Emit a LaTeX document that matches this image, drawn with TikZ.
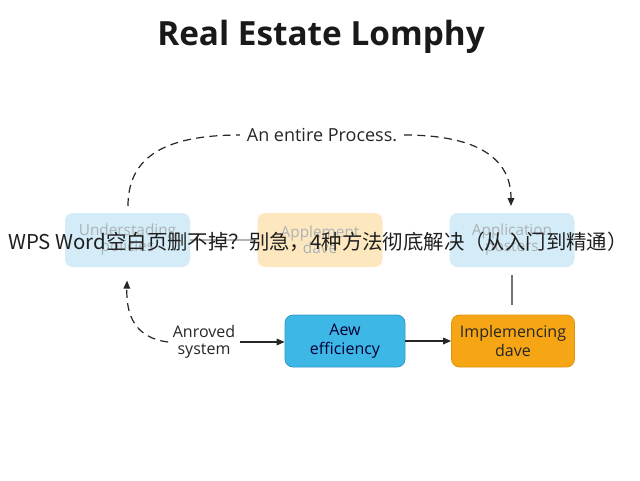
\documentclass[tikz,border=0pt]{standalone}
\usepackage{fontspec}
\setmainfont{Open Sans}
\newfontfamily\cjkfont{Noto Sans CJK SC}
\usetikzlibrary{arrows.meta,calc}
\definecolor{lightblue}{HTML}{D3ECF7}
\definecolor{lightorange}{HTML}{FDE7BF}
\definecolor{midblue}{HTML}{3DB7E6}
\definecolor{deeporange}{HTML}{F6A614}
\definecolor{fadetext}{HTML}{ADB2B6}
\tikzset{
  softbox/.style={rounded corners=6pt, minimum width=125pt*0.75, minimum height=54pt*0.75, align=center, font=\fontsize{11.5}{12}\selectfont, text=fadetext},
  strongbox/.style={rounded corners=6pt, minimum width=120pt*0.75, minimum height=52pt*0.75, align=center, font=\fontsize{12}{14}\selectfont},
  flowarrow/.style={-{Triangle[length=6pt,width=5pt]}, line width=0.9pt, black!85},
  dasharrow/.style={dashed, dash pattern=on 6pt off 4pt, line width=0.9pt, black!85, -{Triangle[length=6pt,width=5pt]}},
  dashline/.style={dashed, dash pattern=on 6pt off 4pt, line width=0.9pt, black!85}
}
\begin{document}
\begin{tikzpicture}[x=0.75pt,y=-0.75pt]
\useasboundingbox[fill=white] (0,0) rectangle (640,480);
% title
\node[font=\fontsize{25}{28}\selectfont\bfseries, text=black!90] (title) at (321,37) {Real Estate Lomphy};
% top row boxes
\node[softbox, fill=lightblue] (b1) at (127.5,240) {Understading\\policies};
\node[softbox, fill=lightorange] (b2) at (320,240) {Applement\\dave};
\node[softbox, fill=lightblue] (b3) at (512,240) {Application\\posters};
% faint arrow between b1 and b2
\draw[-{Triangle[length=5pt,width=4pt]}, line width=0.8pt, black!30] (b1.east) -- (b2.west);
% process label and arc
\node[font=\fontsize{13.5}{15}\selectfont, text=black!85, inner xsep=5pt] (lbl) at (322,135) {An entire Process.};
\coordinate (arcL) at (128,206);
\coordinate (arcR) at (511,206);
\draw[dashline] (arcL) .. controls (128,160) and (160,135) .. (lbl.west);
\draw[dasharrow] (lbl.east) .. controls (480,135) and (511,160) .. (arcR);
% bottom row
\node[font=\fontsize{12}{13}\selectfont, align=center, text=black!85] (anr) at (204,342) {Anroved\\system};
\node[strongbox, fill=midblue, draw=midblue!85!black, line width=0.6pt, text=black!80!blue] (b4) at (345,341) {Aew\\efficiency};
\node[strongbox, fill=deeporange, draw=deeporange!90!black, line width=0.6pt, text=black!85, minimum width=123pt*0.75] (b5) at (513,341) {Implemencing\\dave};
\draw[flowarrow] (anr.east) -- (anr.east -| b4.west);
\draw[flowarrow] (b4.east) -- (b5.west);
% dashed curve back up
\draw[dasharrow, shorten >=10pt] (anr.west) .. controls (135,338) and (126,315) .. (b1.south);
% vertical gray line
\coordinate (vtop) at (512,275);
\coordinate (vbot) at (512,305);
\draw[line width=1pt, black!55] (vtop) -- (vbot);
% overlay text
\node[font=\cjkfont\fontsize{15.3}{17}\selectfont, text=black!88, inner sep=0pt] (overlay) at (318,242) {WPS Word空白页删不掉？别急，4种方法彻底解决（从入门到精通）};
\end{tikzpicture}
\end{document}
